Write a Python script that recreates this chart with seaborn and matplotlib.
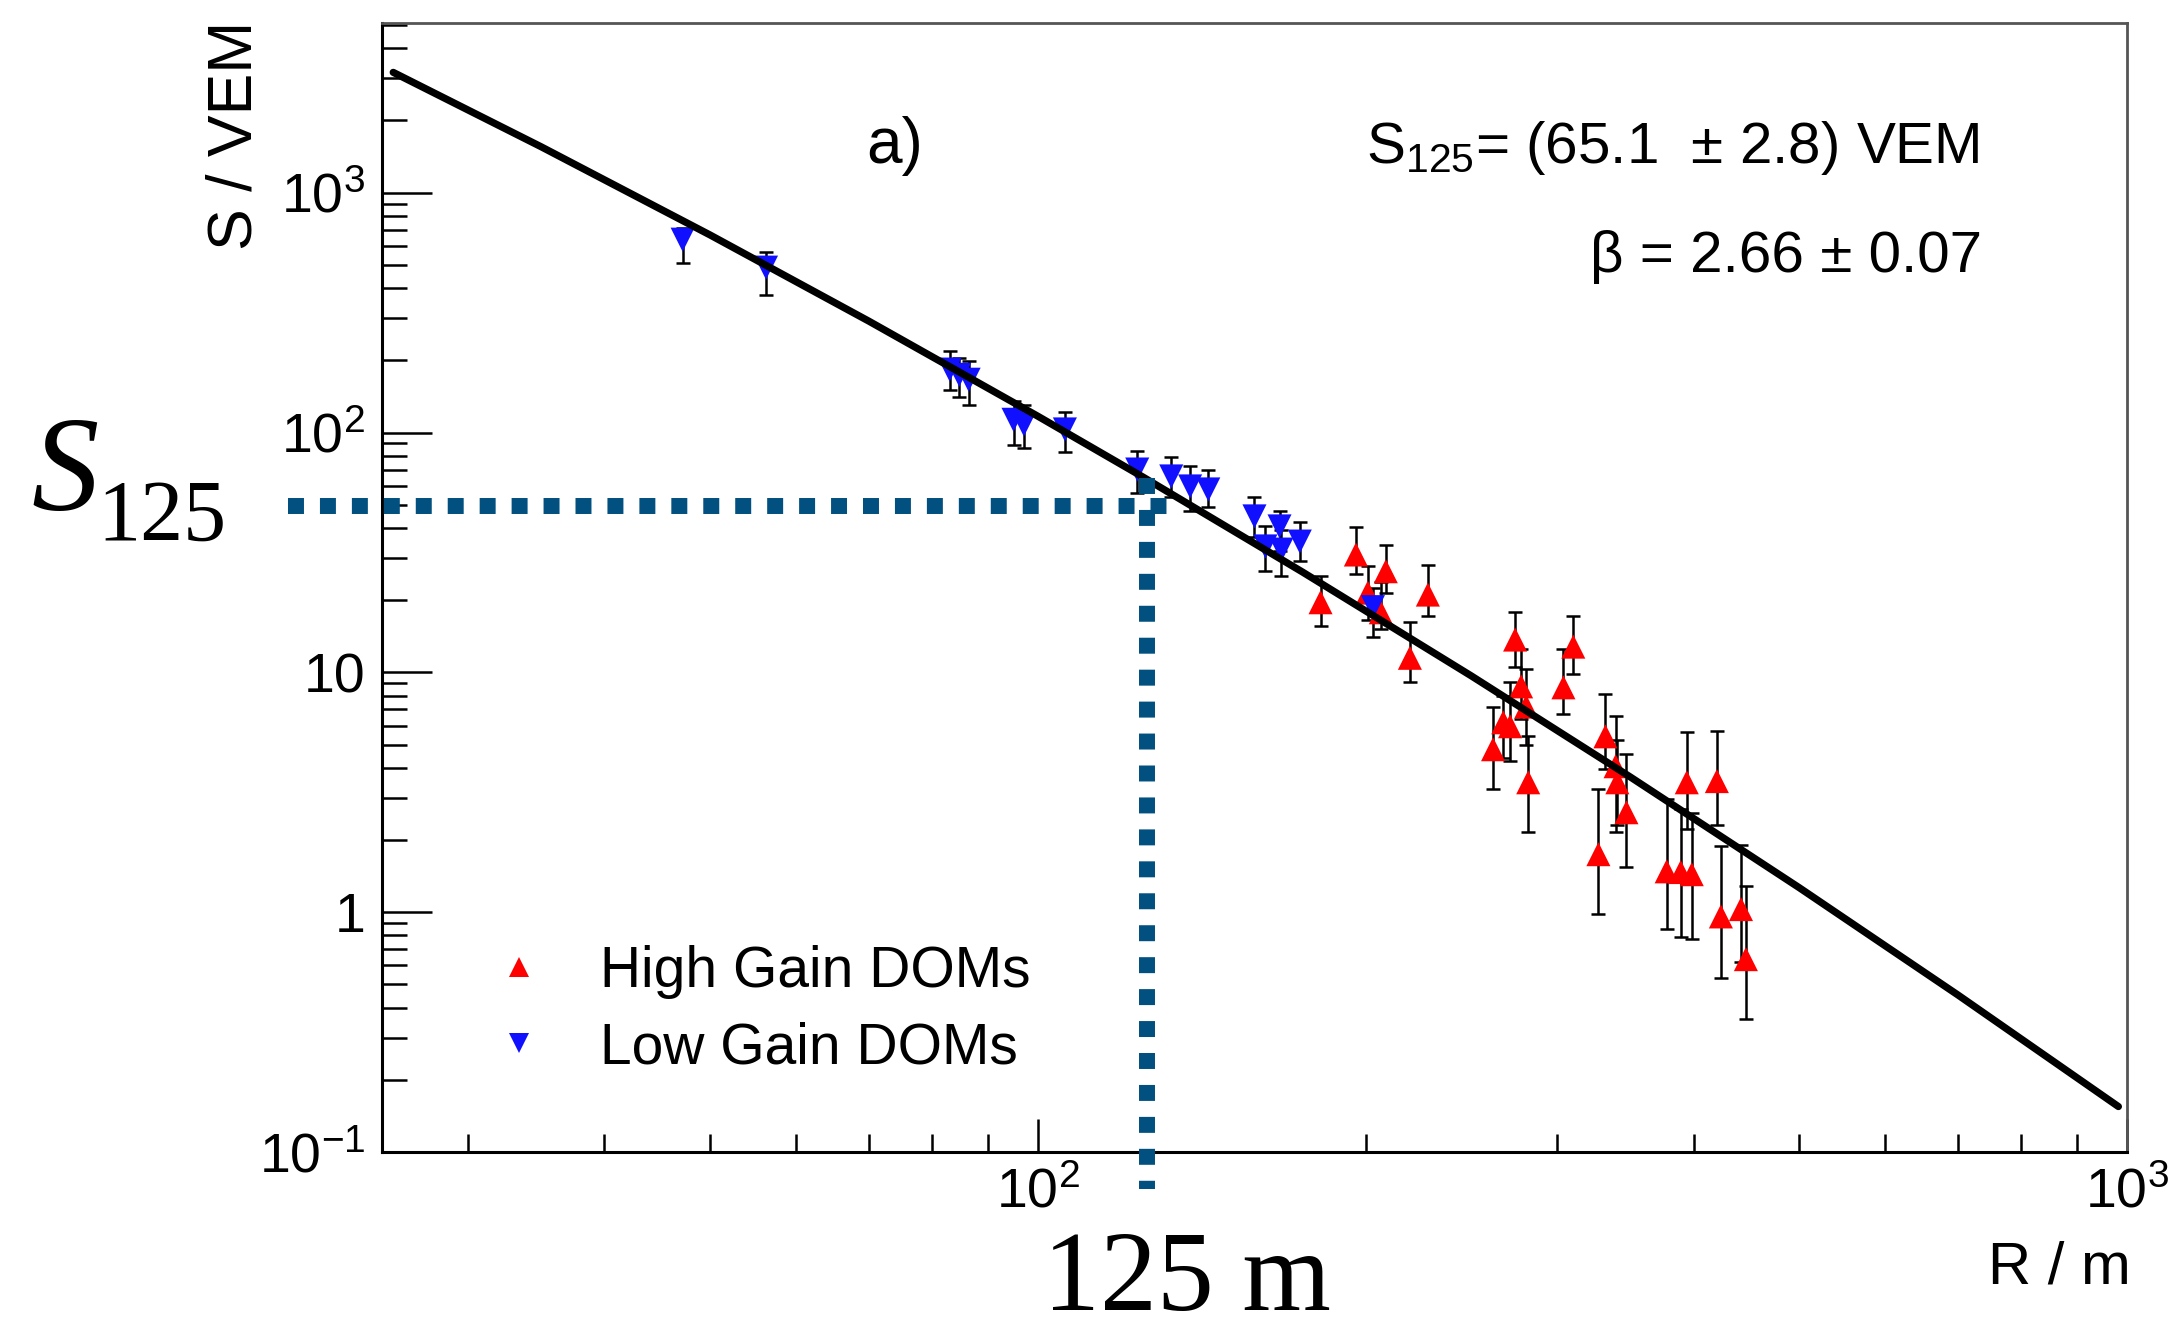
import numpy as np
import pandas as pd
import matplotlib
matplotlib.use("Agg")
import matplotlib.pyplot as plt
import seaborn as sns
from matplotlib.lines import Line2D
from matplotlib.ticker import FixedLocator, FixedFormatter, NullFormatter

# ---------------- data ----------------
high_R = [181.8, 195.9, 200.9, 206.5, 208.7, 219.6, 228.1, 261.8, 267.5, 271.4,
          274.3, 277.8, 280.8, 282.0, 303.8, 310.2, 327.1, 332.0, 339.2, 340.5,
          347.1, 377.9, 389.3, 394.3, 398.5, 420.2, 423.8, 442.2, 446.8]
high_S = [19.6, 31.0, 21.5, 17.8, 26.4, 11.5, 21.1, 4.78, 6.19, 5.96,
          13.7, 8.74, 7.2, 3.48, 8.66, 12.8, 1.745, 5.41, 4.06, 3.48,
          2.61, 1.48, 1.47, 3.48, 1.44, 3.52, 0.96, 1.03, 0.637]
high_up = [25.1, 40.2, 27.7, 23.7, 34.1, 16.2, 27.9, 7.2, 8.0, 9.1,
           17.9, 12.5, 10.3, 5.41, 12.5, 17.1, 3.25, 8.1, 6.56, 5.2,
           4.55, 2.96, 2.68, 5.62, 2.6, 5.68, 1.88, 1.9, 1.28]
high_lo = [15.6, 25.6, 16.6, 15.1, 21.5, 9.1, 17.1, 3.25, 4.4, 4.26,
           10.5, 6.4, 5.0, 2.15, 6.68, 9.8, 0.98, 3.95, 2.15, 2.3,
           1.54, 0.85, 0.79, 2.22, 0.77, 2.3, 0.53, 0.62, 0.36]

low_R = [47.2, 56.3, 83.0, 84.7, 86.4, 95.0, 97.1, 105.9, 123.4, 132.6,
         138.0, 143.4, 158.1, 161.8, 166.7, 167.4, 174.0, 203.1]
low_S = [637, 487, 183, 174, 166, 113, 108, 103, 70.1, 65.6,
         59.6, 57.9, 44.7, 33.5, 40.6, 32.5, 35.1, 18.7]
low_up = [714, 567, 218, 205, 198, 135, 130, 122, 84.1, 79.4,
          72.2, 70.1, 53.6, 40.6, 46.9, 39.4, 42.2, 22.5]
low_lo = [511, 376, 150, 140, 130, 89, 86, 82.6, 55.7, 53.6,
          46.9, 48.7, 36.5, 26.4, 32.0, 25.1, 29.0, 14.1]

# fit curve
fit_R = [25.6, 35, 50, 70, 100, 125, 175, 250, 350, 500, 700, 982]
fit_S = [3175, 1554, 667, 291, 117, 65.1, 26.2, 9.67, 3.66, 1.266, 0.4506, 0.1547]

# hand-drawn S125 marker lines
mark_h_R = [20.5, 132.6]
mark_h_S = [49.2, 49.2]
mark_v_R = [125.9, 125.9]
mark_v_S = [64.9, 0.070]

x_ticks = [100, 1000]
x_ticklabels = [r"$\mathregular{10^{2}}$", r"$\mathregular{10^{3}}$"]
y_ticks = [0.1, 1, 10, 100, 1000]
y_ticklabels = [r"$\mathregular{10^{-1}}$", "1", "10", r"$\mathregular{10^{2}}$", r"$\mathregular{10^{3}}$"]

legend_labels = ["High Gain DOMs", "Low Gain DOMs"]
red = "#ff0000"
blue = "#1010ff"
mark_col = "#01507f"

# ---------------- figure ----------------
sns.set_style("white")
plt.rcParams["font.family"] = ["Liberation Sans", "DejaVu Sans"]
plt.rcParams["mathtext.fontset"] = "custom"
plt.rcParams["mathtext.rm"] = "Liberation Sans"
plt.rcParams["text.color"] = "black"
plt.rcParams["axes.labelcolor"] = "black"
plt.rcParams["xtick.color"] = "black"
plt.rcParams["ytick.color"] = "black"

W, H = 2172, 1335
fig = plt.figure(figsize=(W / 100, H / 100), dpi=100)
fig.patch.set_facecolor("white")
L, R_, T, B = 382, 2127, 23, 1152
ax = fig.add_axes([L / W, 1 - B / H, (R_ - L) / W, (B - T) / H])
ax.set_facecolor("white")

def fx(p):
    return p / W

def fy(p):
    return 1 - p / H

df = pd.DataFrame({
    "R": high_R + low_R,
    "S": high_S + low_S,
    "gain": ["High"] * len(high_R) + ["Low"] * len(low_R),
})

ax.set_xscale("log")
ax.set_yscale("log")

# error bars
for Rv, Sv, up, lo in ((high_R, high_S, high_up, high_lo), (low_R, low_S, low_up, low_lo)):
    Sa = np.array(Sv)
    yerr = [Sa - np.array(lo), np.array(up) - Sa]
    ax.errorbar(Rv, Sv, yerr=yerr, fmt="none", ecolor="black", elinewidth=1.8,
                capsize=5, capthick=1.8, zorder=2)

sns.scatterplot(data=df, x="R", y="S", hue="gain", style="gain",
                markers={"High": "^", "Low": "v"},
                palette={"High": red, "Low": blue},
                s=300, linewidth=0, legend=False, ax=ax, zorder=3)

sns.lineplot(x=fit_R, y=fit_S, color="black", linewidth=5.2, ax=ax,
             sort=False, estimator=None, zorder=4)

ax.set_xlim(25, 1000)
ax.set_ylim(0.1, 5100)
ax.set_xlabel("")
ax.set_ylabel("")

# ticks (ROOT style)
ax.xaxis.set_major_locator(FixedLocator(x_ticks))
ax.xaxis.set_major_formatter(FixedFormatter(x_ticklabels))
ax.xaxis.set_minor_locator(FixedLocator([v * d for d in (10, 100) for v in range(2, 10)]))
ax.xaxis.set_minor_formatter(NullFormatter())
ax.yaxis.set_major_locator(FixedLocator(y_ticks))
ax.yaxis.set_major_formatter(FixedFormatter(y_ticklabels))
ax.yaxis.set_minor_locator(FixedLocator([v * d for d in (0.1, 1, 10, 100, 1000) for v in range(2, 10)]))
ax.yaxis.set_minor_formatter(NullFormatter())

ax.tick_params(axis="both", which="both", direction="in", top=False, right=False,
               bottom=True, left=True, colors="black", width=1.8)
ax.tick_params(axis="y", which="major", length=36, pad=12, labelsize=40)
ax.tick_params(axis="y", which="minor", length=18)
ax.tick_params(axis="x", which="major", length=24, pad=11, labelsize=40)
ax.tick_params(axis="x", which="minor", length=13)

for side in ("left", "bottom"):
    ax.spines[side].set_color("black")
    ax.spines[side].set_linewidth(2.2)
for side in ("top", "right"):
    ax.spines[side].set_color("#555555")
    ax.spines[side].set_linewidth(2.0)

# marker lines for S125
for xs, ys in ((mark_h_R, mark_h_S), (mark_v_R, mark_v_S)):
    ax.plot(xs, ys, color=mark_col, lw=11.5, dashes=(1, 1),
            dash_capstyle="butt", solid_capstyle="butt", clip_on=False, zorder=10)

# legend
handles = [Line2D([], [], marker="^", color=red, ls="none", ms=14, mew=0),
           Line2D([], [], marker="v", color=blue, ls="none", ms=14, mew=0)]
ax.legend(handles, legend_labels, frameon=False, fontsize=41,
          loc="center left", bbox_to_anchor=(fx(462), fy(1010)),
          bbox_transform=fig.transFigure, borderpad=0, handlelength=1.0,
          handletextpad=0.92, labelspacing=0.40)

# texts
fig.text(fx(234.5), fy(21), "S / VEM", rotation=90, ha="center", va="top", fontsize=45)
fig.text(fx(2131), fy(1284), "R / m", ha="right", va="baseline", fontsize=43)
fig.text(fx(866), fy(163), "a)", ha="left", va="baseline", fontsize=46)
fig.text(fx(1980), fy(163), r"$\mathregular{S_{125}}$= (65.1  ± 2.8) VEM",
         ha="right", va="baseline", fontsize=42)
fig.text(fx(1982), fy(272), "β = 2.66 ± 0.07", ha="right", va="baseline", fontsize=42)

fig.text(fx(31), fy(510), "S", family="Liberation Serif", style="italic",
         fontsize=97, ha="left", va="baseline")
fig.text(fx(97), fy(540), "125", family="Liberation Serif",
         fontsize=62, ha="left", va="baseline")
fig.text(fx(1043), fy(1310), "125 m", family="Liberation Serif",
         fontsize=82, ha="left", va="baseline")

fig.savefig("out.png", dpi=100, facecolor="white")
